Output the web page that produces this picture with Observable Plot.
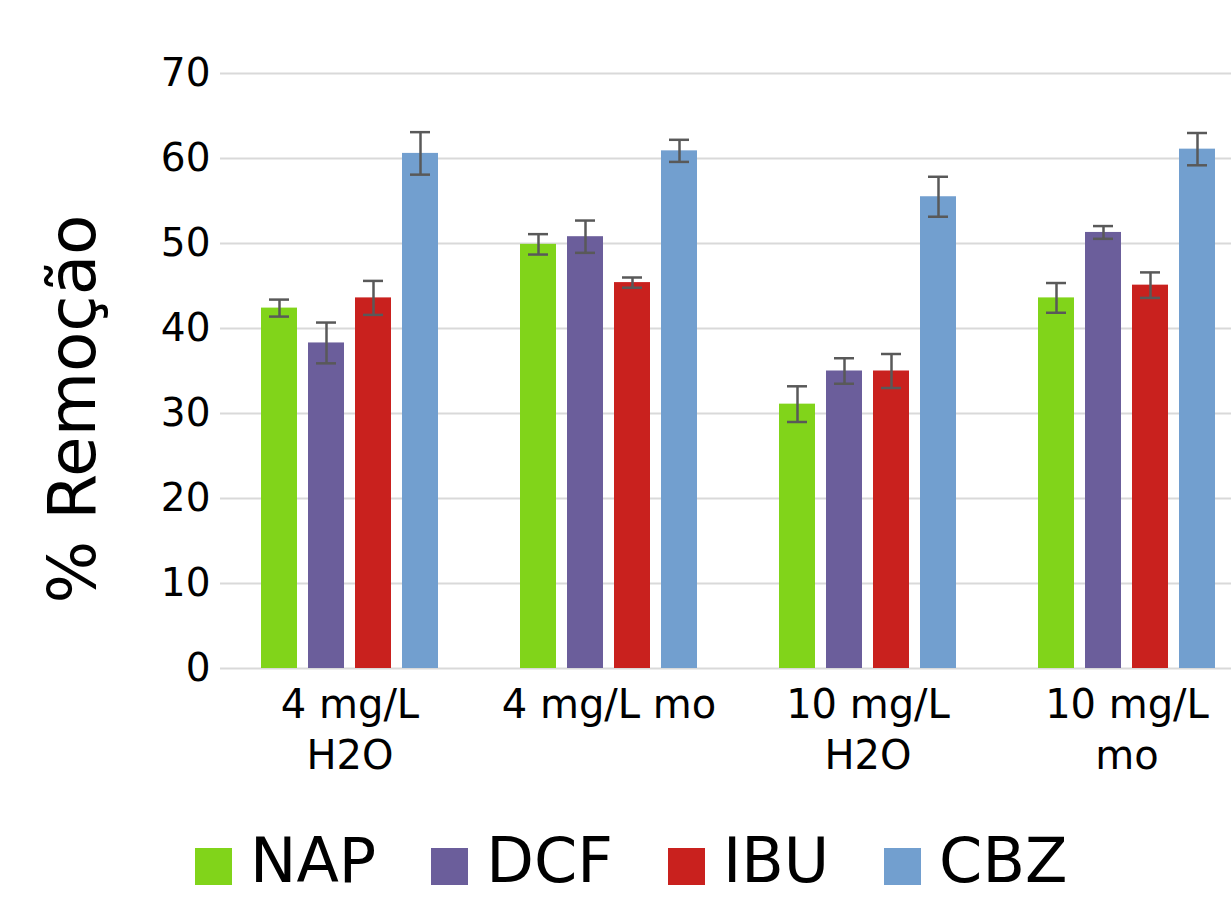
<!DOCTYPE html>
<html>
<head>
<meta charset="utf-8">
<script src="https://cdn.jsdelivr.net/npm/d3@7"></script>
<script src="https://cdn.jsdelivr.net/npm/@observablehq/plot@0.6"></script>
<style>
  html, body { margin: 0; padding: 0; background: white; overflow: hidden; }
  #wrap { position: relative; width: 1231px; height: 898px; overflow: hidden; font-family: "DejaVu Sans", sans-serif; }
  #chart { position: absolute; left: 0; top: 0; width: 1260px; }
  #chart svg { max-width: none !important; }
  #ytitle { position: absolute; left: 73px; top: 409px; transform: translate(-50%, -50%) rotate(-90deg); font-size: 66px; line-height: 1; white-space: nowrap; color: black; }
  #legend { position: absolute; left: 195px; top: 836px; display: flex; align-items: center; font-size: 62px; line-height: 50px; color: black; }
  #legend .item { display: flex; align-items: center; margin-right: 55px; }
  #legend .sw { width: 37px; height: 37px; margin-right: 18px; margin-top: 10px; }
  #legend .lab { display: block; height: 50px; line-height: 50px; }
</style>
</head>
<body>
<div id="wrap">
  <div id="chart"></div>
  <div id="ytitle"></div>
  <div id="legend"></div>
</div>
<script>
const groups = ["4 mg/L\nH2O", "4 mg/L mo", "10 mg/L\nH2O", "10 mg/L\nmo"];
const series = ["NAP", "DCF", "IBU", "CBZ"];
const colors = ["#81d41a", "#6b5e9b", "#c9211e", "#729fcf"];
const yTicks = [0, 10, 20, 30, 40, 50, 60, 70];
const yTitle = "% Remoção";

const NAP = [42.4, 49.9, 31.1, 43.6];
const DCF = [38.3, 50.8, 35.0, 51.3];
const IBU = [43.6, 45.4, 35.0, 45.1];
const CBZ = [60.6, 60.9, 55.5, 61.1];

const NAP_err = [1.0, 1.2, 2.1, 1.75];
const DCF_err = [2.4, 1.9, 1.5, 0.75];
const IBU_err = [2.0, 0.6, 2.0, 1.5];
const CBZ_err = [2.5, 1.3, 2.35, 1.9];

const values = {NAP, DCF, IBU, CBZ};
const errors = {NAP: NAP_err, DCF: DCF_err, IBU: IBU_err, CBZ: CBZ_err};

const table = [];
groups.forEach((g, i) => series.forEach(s => table.push({group: g, series: s, value: values[s][i], err: errors[s][i]})));

const errStroke = "#595959";

const chart = Plot.plot({
  width: 1260,
  height: 800,
  marginLeft: 220,
  marginRight: 4,
  marginTop: 73,
  marginBottom: 132,
  style: {fontFamily: "DejaVu Sans", background: "white", color: "black", maxWidth: "none"},
  fx: {domain: groups, padding: 0, axis: null},
  x: {domain: series, paddingInner: 0.23, paddingOuter: 0.87, axis: null},
  y: {domain: [0, 70], axis: null},
  color: {domain: series, range: colors},
  marks: [
    Plot.ruleY(yTicks, {stroke: "#d9d9d9", strokeWidth: 2}),
    Plot.axisY({ticks: yTicks, tickSize: 0, tickPadding: 10, fontSize: 39, label: null, fill: "black"}),
    Plot.barY(table, {fx: "group", x: "series", y: "value", fill: "series"}),
    Plot.ruleX(table, {fx: "group", x: "series", y1: d => d.value - d.err, y2: d => d.value + d.err, stroke: errStroke, strokeWidth: 2.5}),
    Plot.tickY(table, {fx: "group", x: "series", y: d => d.value - d.err, stroke: errStroke, strokeWidth: 2.5, insetLeft: 8, insetRight: 8}),
    Plot.tickY(table, {fx: "group", x: "series", y: d => d.value + d.err, stroke: errStroke, strokeWidth: 2.5, insetLeft: 8, insetRight: 8}),
    Plot.text(groups, {fx: d => d, text: d => d, frameAnchor: "bottom", lineAnchor: "top", dy: 13, fontSize: 40, lineHeight: 1.28, fill: "black"})
  ]
});
chart.style.maxWidth = "none";
document.getElementById("chart").appendChild(chart);
document.getElementById("ytitle").textContent = yTitle;

const legend = document.getElementById("legend");
series.forEach((s, i) => {
  const item = document.createElement("div");
  item.className = "item";
  const sw = document.createElement("div");
  sw.className = "sw";
  sw.style.background = colors[i];
  const label = document.createElement("div");
  label.className = "lab";
  label.textContent = s;
  item.appendChild(sw);
  item.appendChild(label);
  legend.appendChild(item);
});
</script>
</body>
</html>
